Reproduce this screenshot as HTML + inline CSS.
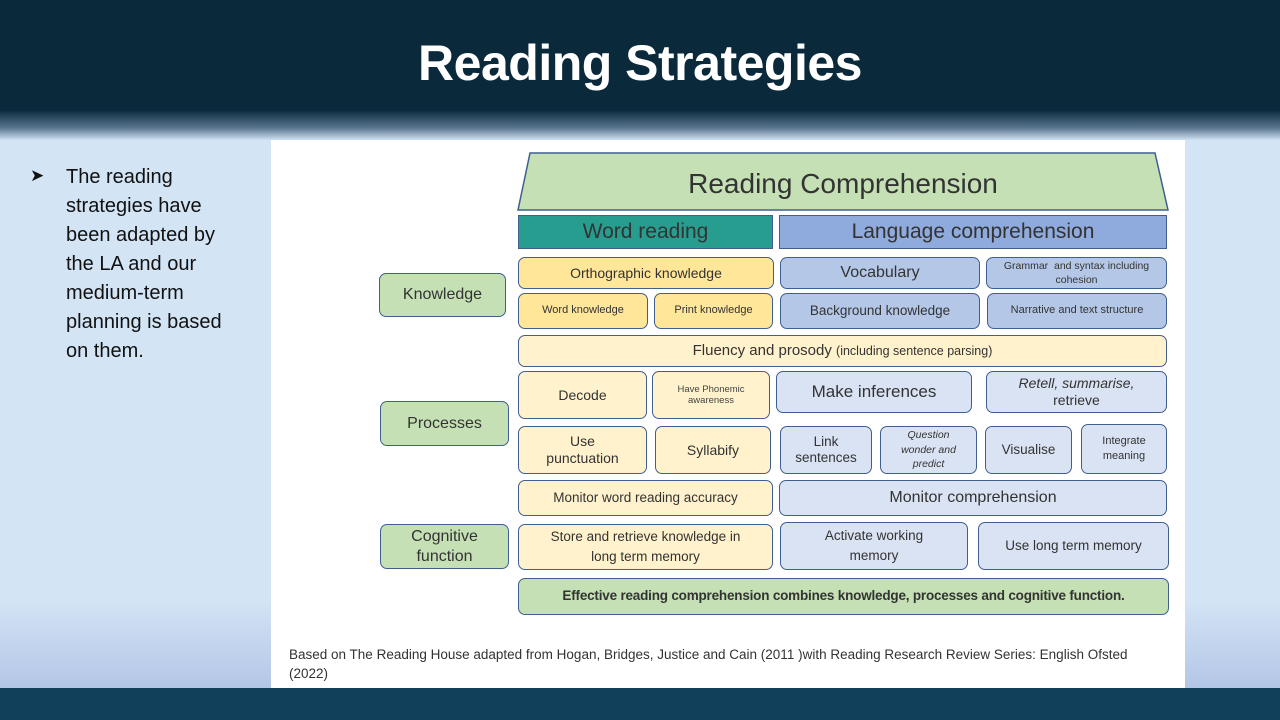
<!DOCTYPE html>
<html><head><meta charset="utf-8"><style>
*{margin:0;padding:0;box-sizing:border-box}
body{width:1280px;height:720px;position:relative;overflow:hidden;font-family:"Liberation Sans",sans-serif;background:#d3e4f5}
.hdr{position:absolute;left:0;top:0;width:1280px;height:140px;background:linear-gradient(#0a2a3c 0,#0a2a3c 110px,#5a7690 128px,#cfe0f2 140px)}
.hdr h1{position:absolute;left:0;width:1280px;top:34px;text-align:center;color:#fff;font-size:50px;font-weight:bold;letter-spacing:-0.5px}
.foot{position:absolute;left:0;top:688px;width:1280px;height:32px;background:#11405a}
.lfade{position:absolute;left:0;top:600px;width:271px;height:88px;background:linear-gradient(#d3e4f5,#b4c6e6)}
.rfade{position:absolute;left:1185px;top:600px;width:95px;height:88px;background:linear-gradient(#d3e4f5,#b4c6e6)}
.panel{position:absolute;left:271px;top:140px;width:914px;height:548px;background:#fff}
.bul{position:absolute;left:66px;top:163px;width:210px;font-size:20px;line-height:29px;color:#111;white-space:nowrap}
.arr{position:absolute;left:30px;top:166px;font-size:17px;color:#111}
.b{position:absolute;display:flex;align-items:center;justify-content:center;text-align:center;border:1.5px solid #3f5f8f;border-radius:7px;color:#333;line-height:1.2}
.y{background:#ffe699}.c{background:#fff2cc}.l{background:#b4c7e7}.p{background:#dae3f3}.g{background:#c5e0b4}
.note{position:absolute;left:289px;top:645px;width:880px;font-size:13.5px;line-height:19px;color:#333}
</style></head><body>
<div class="hdr"><h1>Reading Strategies</h1></div>
<div class="lfade"></div><div class="rfade"></div>
<div class="foot"></div>
<div class="panel"></div>
<div class="arr">&#10148;</div>
<div class="bul">The reading<br>strategies have<br>been adapted by<br>the LA and our<br>medium-term<br>planning is based<br>on them.</div>

<svg style="position:absolute;left:0;top:0" width="1280" height="720">
<polygon points="530,153 1155,153 1168,210 518,210" fill="#c5e0b4" stroke="#3f5f8f" stroke-width="1.5"/>
<text x="843" y="193" text-anchor="middle" font-family="Liberation Sans" font-size="28" fill="#333">Reading Comprehension</text>
</svg>
<div class="b" style="left:518px;top:215px;width:255px;height:34px;background:#269d8f;border-radius:0;font-size:21px">Word reading</div>
<div class="b" style="left:779px;top:215px;width:388px;height:34px;background:#8faadc;border-radius:0;font-size:21px">Language comprehension</div>

<div class="b g" style="left:379px;top:273px;width:127px;height:44px;font-size:16px">Knowledge</div>
<div class="b g" style="left:380px;top:401px;width:129px;height:45px;font-size:16px">Processes</div>
<div class="b g" style="left:380px;top:524px;width:129px;height:45px;font-size:16px">Cognitive<br>function</div>

<div class="b y" style="left:518px;top:257px;width:256px;height:32px;font-size:14px">Orthographic knowledge</div>
<div class="b l" style="left:780px;top:257px;width:200px;height:32px;font-size:16px">Vocabulary</div>
<div class="b l" style="left:986px;top:257px;width:181px;height:32px;font-size:10.5px;line-height:1.35">Grammar&nbsp; and syntax including cohesion</div>
<div class="b y" style="left:518px;top:293px;width:130px;height:36px;font-size:11px">Word knowledge</div>
<div class="b y" style="left:654px;top:293px;width:119px;height:36px;font-size:11px">Print knowledge</div>
<div class="b l" style="left:780px;top:293px;width:200px;height:36px;font-size:13.5px">Background knowledge</div>
<div class="b l" style="left:987px;top:293px;width:180px;height:36px;font-size:11px">Narrative and text structure</div>

<div class="b c" style="left:518px;top:335px;width:649px;height:32px;font-size:15px">Fluency and prosody&nbsp;<span style="font-size:12.5px">(including sentence parsing)</span></div>

<div class="b c" style="left:518px;top:371px;width:129px;height:48px;font-size:14px">Decode</div>
<div class="b c" style="left:652px;top:371px;width:118px;height:48px;font-size:9.5px;color:#444">Have Phonemic<br>awareness</div>
<div class="b p" style="left:776px;top:371px;width:196px;height:42px;font-size:17px">Make inferences</div>
<div class="b p" style="left:986px;top:371px;width:181px;height:42px;font-size:14px"><span><i>Retell, summarise,</i><br>retrieve</span></div>

<div class="b c" style="left:518px;top:426px;width:129px;height:48px;font-size:14px">Use<br>punctuation</div>
<div class="b c" style="left:655px;top:426px;width:116px;height:48px;font-size:14px">Syllabify</div>
<div class="b p" style="left:780px;top:426px;width:92px;height:48px;font-size:13.5px">Link<br>sentences</div>
<div class="b p" style="left:880px;top:426px;width:97px;height:48px;font-size:10.5px;font-style:italic;line-height:1.4">Question<br>wonder and<br>predict</div>
<div class="b p" style="left:985px;top:426px;width:87px;height:48px;font-size:13.5px">Visualise</div>
<div class="b p" style="left:1081px;top:424px;width:86px;height:50px;font-size:11px;line-height:1.4">Integrate<br>meaning</div>

<div class="b c" style="left:518px;top:480px;width:255px;height:36px;font-size:13.5px">Monitor word reading accuracy</div>
<div class="b p" style="left:779px;top:480px;width:388px;height:36px;font-size:16px">Monitor comprehension</div>

<div class="b c" style="left:518px;top:524px;width:255px;height:46px;font-size:13.5px;line-height:1.5">Store and retrieve knowledge in<br>long term memory</div>
<div class="b p" style="left:780px;top:522px;width:188px;height:48px;font-size:13.5px;line-height:1.5">Activate working<br>memory</div>
<div class="b p" style="left:978px;top:522px;width:191px;height:48px;font-size:13.5px">Use long term memory</div>

<div class="b g" style="left:518px;top:578px;width:651px;height:37px;font-size:13.5px;font-weight:bold;letter-spacing:-0.2px">Effective reading comprehension combines knowledge, processes and cognitive function.</div>

<div class="note">Based on The Reading House adapted from Hogan, Bridges, Justice and Cain (2011 )with Reading Research Review Series: English Ofsted<br>(2022)</div>
</body></html>
